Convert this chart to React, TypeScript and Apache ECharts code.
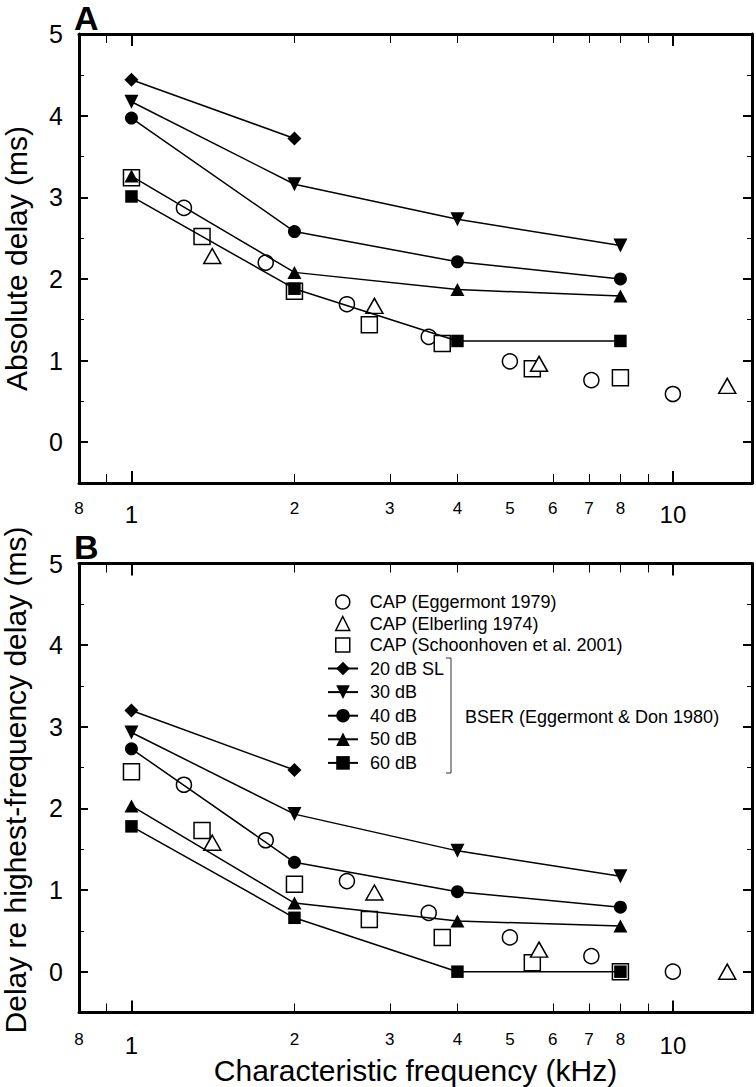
import React, { useEffect, useRef } from "react";
import * as echarts from "echarts";

const FONT = "'Liberation Sans', Arial, Helvetica, sans-serif";

// ---- Data (frequencies in kHz, delays in ms) ----
const bserFreqs = [1, 2, 4, 8];
const bserNames = ["20 dB SL", "30 dB", "40 dB", "50 dB", "60 dB"];
const capNames = ["CAP (Eggermont 1979)", "CAP (Elberling 1974)", "CAP (Schoonhoven et al. 2001)"];

// Panel A: absolute delay
const absDelay20 = [4.44, 3.72];
const absDelay30 = [4.17, 3.16, 2.73, 2.41];
const absDelay40 = [3.97, 2.58, 2.21, 2.0];
const absDelay50 = [3.26, 2.08, 1.87, 1.79];
const absDelay60 = [3.01, 1.88, 1.24, 1.24];

const eggFreqs = [1.25, 1.77, 2.5, 3.54, 5, 7.07, 10];
const eggAbs = [2.87, 2.2, 1.69, 1.29, 0.99, 0.76, 0.59];
const elbFreqs = [1.41, 2.81, 5.66, 12.6];
const elbAbs = [2.28, 1.67, 0.96, 0.69];
const schFreqs = [1, 1.35, 2, 2.75, 3.75, 5.5, 8];
const schAbs = [3.24, 2.52, 1.85, 1.44, 1.21, 0.9, 0.79];

// Panel B: delay re highest-frequency delay
const relDelay20 = [3.2, 2.47];
const relDelay30 = [2.93, 1.93, 1.48, 1.17];
const relDelay40 = [2.73, 1.34, 0.98, 0.79];
const relDelay50 = [2.03, 0.84, 0.62, 0.56];
const relDelay60 = [1.78, 0.66, 0, 0];
const eggRel = [2.29, 1.61, 1.11, 0.72, 0.42, 0.19, 0];
const elbRel = [1.58, 0.97, 0.27, 0];
const schRel = [2.45, 1.73, 1.07, 0.64, 0.42, 0.11, 0];

// Axis ticks / labels
const xLabelFreqs = [0.8, 1, 2, 3, 4, 5, 6, 7, 8, 10];
const xMinorTickFreqs = [0.9, 2, 3, 4, 6, 7, 8, 9];
const xMajorTickFreqs = [1, 10];
const yMajorTicks = [0, 1, 2, 3, 4, 5];
const yMinorTicks = [0.5, 1.5, 2.5, 3.5, 4.5];
const X_MIN_FREQ = 0.8;
const X_MAX_FREQ = 14;
const Y_MIN = -0.5;
const Y_MAX = 5;

const lg = (v: number) => Math.log10(v);

function xLabelFormatter(v: number) {
  const f = Math.round(Math.pow(10, v) * 10) / 10;
  const txt = Math.abs(f - 0.8) < 1e-6 ? "8" : String(f);
  return f === 1 || f === 10 ? `{big|${txt}}` : `{small|${txt}}`;
}

function buildXAxes(gMain: number, gOver: number, labelMargin: number) {
  const base: any = {
    type: "value",
    min: lg(X_MIN_FREQ),
    max: lg(X_MAX_FREQ),
    splitLine: { show: false },
    axisLabel: { show: false },
    axisTick: { show: false },
    axisLine: { show: false, onZero: false },
  };
  const line = { show: true, onZero: false, lineStyle: { color: "#000", width: 3 } };
  const minorTick = {
    show: true,
    inside: true,
    length: 9,
    lineStyle: { color: "#000", width: 1 },
    customValues: xMinorTickFreqs.map(lg),
  };
  const majorTick = {
    show: true,
    inside: true,
    length: 12,
    lineStyle: { color: "#000", width: 2 },
    customValues: xMajorTickFreqs.map(lg),
  };
  return [
    {
      ...base,
      gridIndex: gMain,
      position: "bottom",
      axisLine: line,
      axisTick: minorTick,
      axisLabel: {
        show: true,
        showMinLabel: true,
        showMaxLabel: true,
        customValues: xLabelFreqs.map(lg),
        formatter: xLabelFormatter,
        margin: labelMargin,
        color: "#000",
        fontFamily: FONT,
        fontSize: 17,
        rich: {
          big: { fontSize: 24, fontFamily: FONT, color: "#000", padding: [2.5, 0, 0, 0] },
          small: { fontSize: 17, fontFamily: FONT, color: "#000" },
        },
      },
    },
    { ...base, gridIndex: gMain, position: "top", axisLine: line, axisTick: minorTick },
    { ...base, gridIndex: gOver, position: "bottom", axisTick: majorTick },
    { ...base, gridIndex: gOver, position: "top", axisTick: majorTick },
  ];
}

function buildYAxes(gMain: number, gOver: number, name: string, nameGap: number, namePadding: number[]) {
  const base: any = {
    type: "value",
    min: Y_MIN,
    max: Y_MAX,
    splitLine: { show: false },
    axisLabel: { show: false },
    axisTick: { show: false },
    axisLine: { show: false, onZero: false },
  };
  const line = { show: true, onZero: false, lineStyle: { color: "#000", width: 3 } };
  const majorTick = {
    show: true,
    inside: true,
    length: 9,
    lineStyle: { color: "#000", width: 2 },
    customValues: yMajorTicks,
  };
  const minorTick = {
    show: true,
    inside: true,
    length: 5,
    lineStyle: { color: "#000", width: 1 },
    customValues: yMinorTicks,
  };
  return [
    {
      ...base,
      gridIndex: gMain,
      position: "left",
      axisLine: line,
      axisTick: majorTick,
      axisLabel: {
        show: true,
        customValues: yMajorTicks,
        margin: 16,
        fontSize: 25,
        fontFamily: FONT,
        color: "#000",
      },
      name,
      nameLocation: "middle",
      nameGap,
      nameMoveOverlap: false,
      nameTextStyle: { fontSize: 30, lineHeight: 26, fontFamily: FONT, color: "#000", padding: namePadding },
    },
    { ...base, gridIndex: gMain, position: "right", axisLine: line, axisTick: majorTick },
    { ...base, gridIndex: gOver, position: "left", axisTick: minorTick },
    { ...base, gridIndex: gOver, position: "right", axisTick: minorTick },
  ];
}

const pairs = (xs: number[], ys: number[]) => ys.map((y, i) => [lg(xs[i]), y]);

const TRI_DOWN = "path://M0,0 L10,0 L5,10 Z";

function buildSeries(
  xAxisIndex: number,
  yAxisIndex: number,
  bser: number[][],
  egg: number[],
  elb: number[],
  sch: number[]
) {
  const open = { color: "#fff", borderColor: "#000", borderWidth: 1.5, opacity: 1 };
  const scatters: any[] = [
    { name: capNames[0], type: "scatter", symbol: "circle", symbolSize: 15, data: pairs(eggFreqs, egg) },
    { name: capNames[2], type: "scatter", symbol: "rect", symbolSize: 16, data: pairs(schFreqs, sch) },
    { name: capNames[1], type: "scatter", symbol: "triangle", symbolSize: [17, 15], data: pairs(elbFreqs, elb) },
  ].map((s) => ({ ...s, xAxisIndex, yAxisIndex, itemStyle: open, z: 2, emphasis: { disabled: true } }));
  const symbols: any[] = [
    ["diamond", 14],
    [TRI_DOWN, 14],
    ["circle", 13],
    ["triangle", [14, 13]],
    ["rect", 12.5],
  ];
  const lines = bser.map((vals, i) => ({
    name: bserNames[i],
    type: "line",
    xAxisIndex,
    yAxisIndex,
    symbol: symbols[i][0],
    symbolSize: symbols[i][1],
    showSymbol: true,
    data: pairs(bserFreqs, vals),
    lineStyle: { color: "#000", width: 1.5 },
    itemStyle: { color: "#000", opacity: 1 },
    z: 3,
    emphasis: { disabled: true },
  }));
  return [...scatters, ...lines];
}

export default function App() {
  const ref = useRef<HTMLDivElement>(null);
  useEffect(() => {
    document.body.style.margin = "0";
    if (!ref.current) return;
    const chart = echarts.init(ref.current, undefined, { renderer: "svg" });
    const gridA = { left: 79, top: 34, width: 673, height: 449, outerBoundsMode: "none", containLabel: false };
    const gridB = { left: 79, top: 563.5, width: 673, height: 449, outerBoundsMode: "none", containLabel: false };
    const option: any = {
      animation: false,
      backgroundColor: "#fff",
      textStyle: { fontFamily: FONT },
      grid: [gridA, gridA, gridB, gridB],
      xAxis: [
        ...buildXAxes(0, 1, 16.5),
        ...(() => {
          const b = buildXAxes(2, 3, 18.5);
          b[0].name = "Characteristic frequency (kHz)";
          b[0].nameLocation = "middle";
          b[0].nameGap = 44.5;
          b[0].nameMoveOverlap = false;
          b[0].nameTextStyle = { fontSize: 30, lineHeight: 26, fontFamily: FONT, color: "#000" };
          return b;
        })(),
      ],
      yAxis: [
        ...buildYAxes(0, 1, "Absolute delay (ms)", 50, [0, 0, 0, 0]),
        ...buildYAxes(2, 3, "Delay re highest-frequency delay (ms)", 50.5, [0, 0, 0, 16]),
      ],
      legend: [
        {
          data: capNames,
          orient: "vertical",
          left: 335,
          top: 593,
          padding: 0,
          itemWidth: 14,
          itemHeight: 14,
          itemGap: 3.5,
          selectedMode: false,
          itemStyle: { borderWidth: 1.5, borderColor: "#000", color: "#fff" },
          textStyle: { fontSize: 18, fontFamily: FONT, color: "#000", padding: [0, 0, 0, 15] },
        },
        {
          data: bserNames,
          orient: "vertical",
          left: 327,
          top: 659.5,
          padding: 0,
          itemWidth: 30,
          itemHeight: 17,
          itemGap: 5.6,
          selectedMode: false,
          textStyle: { fontSize: 18, fontFamily: FONT, color: "#000", padding: [0, 0, 0, 7] },
        },
      ],
      graphic: [
        {
          type: "text",
          x: 74,
          y: 17.5,
          style: { text: "A", font: `bold 34px ${FONT}`, lineHeight: 28, fill: "#000", verticalAlign: "middle" },
        },
        {
          type: "text",
          x: 74,
          y: 546.5,
          style: { text: "B", font: `bold 34px ${FONT}`, lineHeight: 28, fill: "#000", verticalAlign: "middle" },
        },
        {
          type: "polyline",
          shape: { points: [[446, 658], [451, 658], [451, 773], [446, 773]] },
          style: { stroke: "#333", lineWidth: 1, fill: "none" },
        },
        {
          type: "text",
          x: 465,
          y: 716.5,
          style: {
            text: "BSER (Eggermont & Don 1980)",
            font: `18px ${FONT}`,
            fill: "#000",
            verticalAlign: "middle",
          },
        },
      ],
      series: [
        ...buildSeries(0, 0, [absDelay20, absDelay30, absDelay40, absDelay50, absDelay60], eggAbs, elbAbs, schAbs),
        ...buildSeries(4, 4, [relDelay20, relDelay30, relDelay40, relDelay50, relDelay60], eggRel, elbRel, schRel),
      ],
    };
    chart.setOption(option);
    return () => chart.dispose();
  }, []);
  return <div ref={ref} style={{ width: 756, height: 1087 }} />;
}
